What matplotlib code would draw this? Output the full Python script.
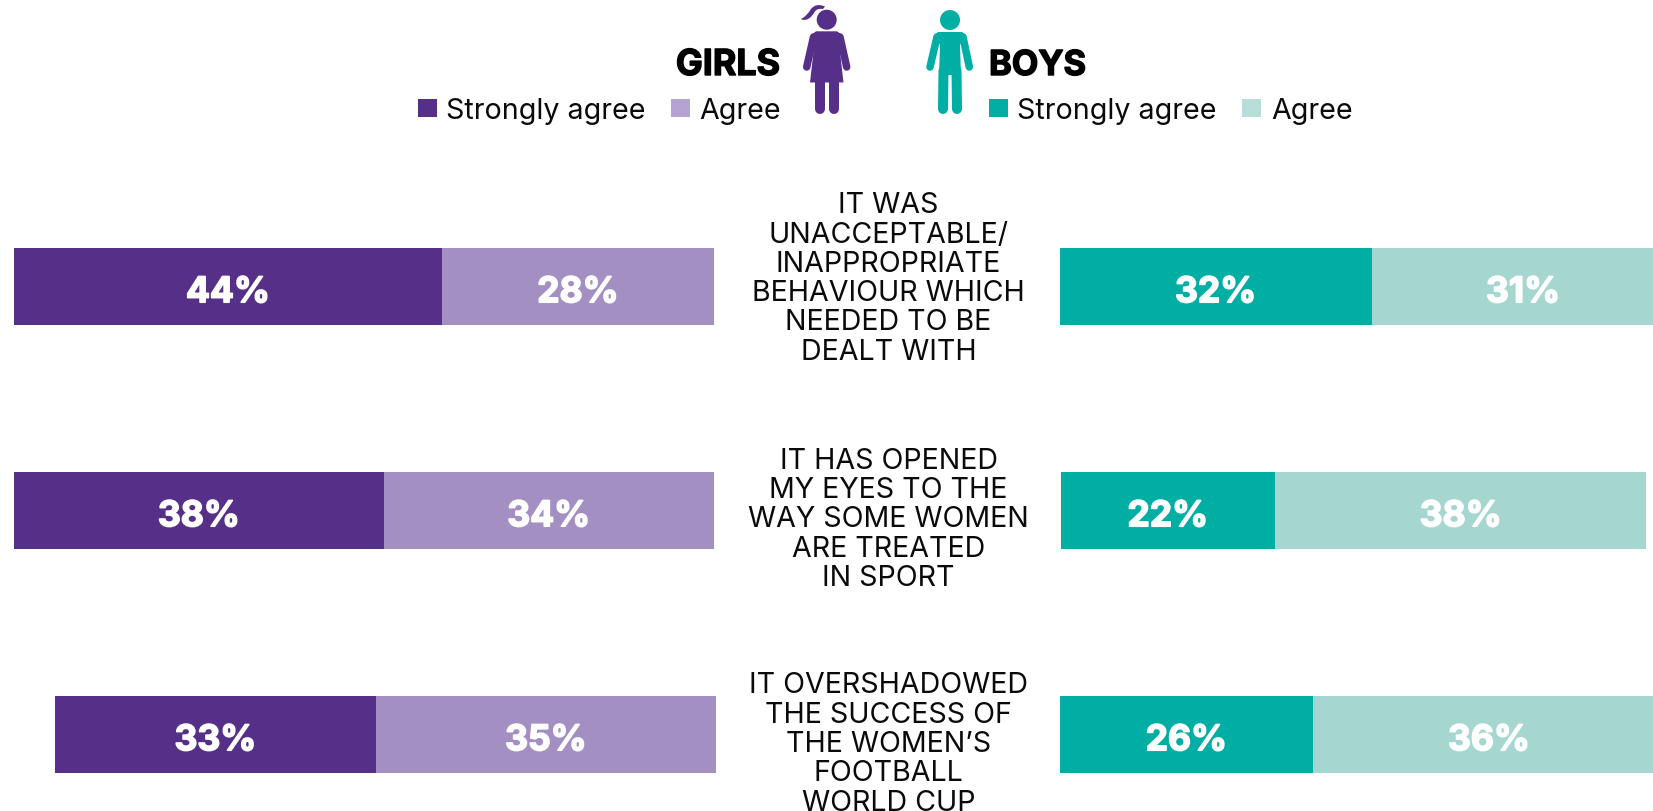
import matplotlib
matplotlib.use("Agg")
import matplotlib.pyplot as plt
from matplotlib.patches import Circle, Polygon, Rectangle, PathPatch
from matplotlib.path import Path
from matplotlib.lines import Line2D
import matplotlib.patheffects as pe

# ---- data ----
statements = [
    "IT WAS\nUNACCEPTABLE/\nINAPPROPRIATE\nBEHAVIOUR WHICH\nNEEDED TO BE\nDEALT WITH",
    "IT HAS OPENED\nMY EYES TO THE\nWAY SOME WOMEN\nARE TREATED\nIN SPORT",
    "IT OVERSHADOWED\nTHE SUCCESS OF\nTHE WOMEN\u2019S\nFOOTBALL\nWORLD CUP",
]
girls_strong = [44, 38, 33]
girls_agree = [28, 34, 35]
boys_strong = [32, 22, 26]
boys_agree = [31, 38, 36]

# ---- style ----
W, H = 1653, 812
PX = 9.72
PXB = 9.76
PURPLE, PURPLE_L, PURPLE_K = "#563088", "#A48FC3", "#B5A3D3"
TEAL, TEAL_L, TEAL_K = "#00AEA4", "#A6D6D0", "#B8DEDA"
FONT = ["Inter", "DejaVu Sans"]

fig = plt.figure(figsize=(W / 100, H / 100), dpi=100, facecolor="white")
ax = fig.add_axes([0, 0, 1, 1])
ax.set_xlim(0, W / PX)
ax.set_ylim((H - 287) / 224, -287 / 224)
ax.axis("off")

axb = fig.add_axes([0, 0, 1, 1], facecolor="none")
axb.set_xlim(0, W / PXB)
axb.set_ylim((H - 287) / 224, -287 / 224)
axb.axis("off")

px = fig.add_axes([0, 0, 1, 1], facecolor="none")
px.set_xlim(0, W)
px.set_ylim(H, 0)
px.axis("off")

girl_end = [714 / PX, 714 / PX, 716 / PX]
boy_start = [1059.5 / PXB, 1060.5 / PXB, 1059.5 / PXB]
bar_h = 77 / 224


def pct(a, x, y, v):
    t = a.text(x, y + 0.03, f"{v}%", color="white", ha="center", va="center",
               fontsize=25.5, fontweight="bold", family=FONT, clip_on=True)
    t.set_path_effects([pe.withStroke(linewidth=1.2, foreground="white")])


for i in range(3):
    gs, ga = girls_strong[i], girls_agree[i]
    left = girl_end[i] - ga - gs
    ax.barh(i, gs, left=left, height=bar_h, color=PURPLE, linewidth=0)
    ax.barh(i, ga, left=left + gs, height=bar_h, color=PURPLE_L, linewidth=0)
    pct(ax, left + gs / 2, i, gs)
    pct(ax, left + gs + ga / 2, i, ga)

    bs, ba = boys_strong[i], boys_agree[i]
    axb.barh(i, bs, left=boy_start[i], height=bar_h, color=TEAL, linewidth=0)
    axb.barh(i, ba, left=boy_start[i] + bs, height=bar_h, color=TEAL_L, linewidth=0)
    pct(axb, boy_start[i] + bs / 2, i, bs)
    pct(axb, boy_start[i] + bs + ba / 2, i, ba)

# statements
centres = [279, 520, 744.5]
for s, y in zip(statements, centres):
    px.text(888.5, y, s, ha="center", va="center", fontsize=20.6, family=FONT,
            color="#0a0a0a", linespacing=1.11, multialignment="center")

# legend
for x, c in [(418, PURPLE), (671, PURPLE_K), (989, TEAL), (1242, TEAL_K)]:
    px.add_patch(Rectangle((x, 100), 19, 18, color=c, lw=0))
for x, s in [(446, "Strongly agree"), (699, "Agree"), (1017, "Strongly agree"), (1271, "Agree")]:
    px.text(x, 119, s, ha="left", va="baseline", fontsize=20.6, family=FONT, color="#0a0a0a")
for x, s, ha, fs in [(780, "GIRLS", "right", 25.8), (989, "BOYS", "left", 24.8)]:
    t = px.text(x, 76, s, ha=ha, va="baseline", fontsize=fs, fontweight="bold", family=FONT, color="black")
    t.set_path_effects([pe.withStroke(linewidth=1.0, foreground="black")])


def limb(x0, y0, x1, y1, w, c):
    px.add_line(Line2D([x0, x1], [y0, y1], lw=w * 0.72, color=c, solid_capstyle="round"))


# girl icon
px.add_patch(Circle((826.7, 20.7), 10, color=PURPLE, lw=0))
px.add_patch(PathPatch(Path(
    [(825, 7.5), (816, 3.5), (811, 10), (806, 18), (801.5, 19.5), (801.5, 20.5),
     (809, 23), (814.5, 13), (817, 9), (823, 10)],
    [Path.MOVETO, Path.CURVE3, Path.CURVE3, Path.CURVE3, Path.CURVE3, Path.LINETO,
     Path.CURVE3, Path.CURVE3, Path.CURVE3, Path.CURVE3]), color=PURPLE, lw=0))
px.add_patch(Polygon([(816, 32.3), (837, 32.3), (841, 35), (839, 44), (843.5, 83.5), (810, 83.5), (814.5, 44), (812.5, 35)],
                     color=PURPLE, lw=0))
limb(813.5, 38, 806.7, 68, 7.5, PURPLE)
limb(840, 38, 846.7, 68, 7.5, PURPLE)
limb(819.7, 80, 819.7, 110, 10, PURPLE)
limb(834, 80, 834, 110, 10, PURPLE)

# boy icon
px.add_patch(Circle((950, 21), 10, color=TEAL, lw=0))
px.add_patch(Polygon([(938, 33), (962, 33), (966, 36), (960, 46), (961, 76), (939, 76), (940, 46), (934, 36)],
                     color=TEAL, lw=0))
limb(937, 38, 930, 68, 7.5, TEAL)
limb(963, 38, 969.3, 68, 7.5, TEAL)
limb(943.5, 72, 943, 110, 10, TEAL)
limb(956.5, 72, 957, 110, 10, TEAL)

fig.savefig("out.png", dpi=100, facecolor="white")
